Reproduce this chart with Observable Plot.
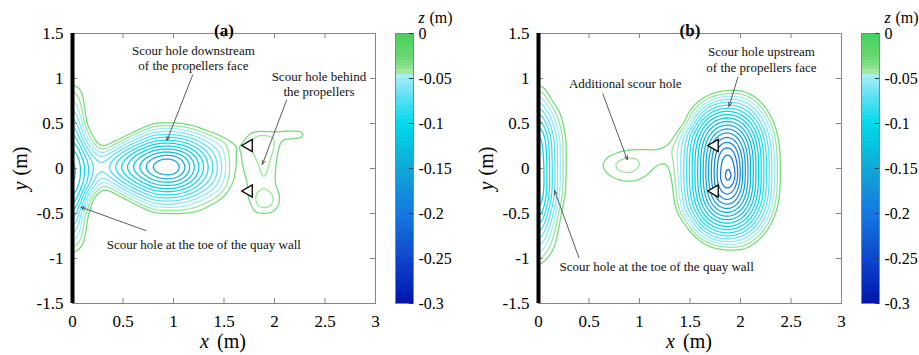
<!DOCTYPE html>
<html><head><meta charset="utf-8">
<script src="https://cdn.jsdelivr.net/npm/d3@7"></script>
<script src="https://cdn.jsdelivr.net/npm/@observablehq/plot@0.6"></script>
<style>
body{margin:0;background:#fff;}
#wrap{position:relative;width:919px;height:355px;overflow:hidden;background:#fff;}
#wrap > div{position:absolute;top:0;}
#wrap svg{font-family:"Liberation Serif","DejaVu Serif",serif;}
#wrap svg text{font-family:"Liberation Serif","DejaVu Serif",serif !important;}
</style></head><body><div id="wrap"></div>
<script>
// ---- data ----
const gridX = [0,0.1,0.2,0.3,0.4,0.5,0.6,0.7,0.8,0.9,1,1.1,1.2,1.3,1.4,1.5,1.6,1.7,1.8,1.9,2,2.1,2.2,2.3,2.4,2.5,2.6,2.7,2.8,2.9,3];
const gridY = [1.5,1.4,1.3,1.2,1.1,1,0.9,0.8,0.7,0.6,0.5,0.4,0.3,0.2,0.1,0,-0.1,-0.2,-0.3,-0.4,-0.5,-0.6,-0.7,-0.8,-0.9,-1,-1.1,-1.2,-1.3,-1.4,-1.5];

// scour depth (mm); "y: values from x=0 by 0.1 m" ("@x" jumps to column x); missing = 0
const depthA = [
"1.0: 20 5",
"0.9: 40 28",
"0.8: 50 33",
"0.7: 62 38",
"0.6: 75 42",
"0.5: 88 48 5 @0.7 15 31 33 33 29 22 13",
"0.4: 100 60 22 @0.5 11 31 47 61 64 63 59 51 39 30 15 5 22 38 37 38 45 45 44",
"0.3: 110 76 38 8 26 46 64 79 92 95 94 88 78 64 52 42 30 32 44 55 43 25 25 22",
"0.2: 120 92 58 40 59 77 94 108 121 126 125 116 102 84 66 50 27 30 44 48 42 12",
"0.1: 127 103 76 65 82 99 116 132 146 156 154 140 119 98 76 55 26 31 38 46 37 10",
"0.0: 130 106 80 72 89 106 123 139 156 166 166 147 124 101 79 56 26 30 36 44 35 8",
"-0.1: 130 105 78 58 76 93 110 125 139 146 145 133 114 94 75 53 25 29 35 43 34 8",
"-0.2: 127 100 70 31 51 69 86 100 113 117 117 109 96 79 64 45 22 27 36 38 34 15",
"-0.3: 120 88 33 10 18 39 57 72 85 88 88 82 72 59 48 32 14 26 42 47 42 20",
"-0.4: 112 70 20 0 0 5 25 42 57 59 59 54 46 38 28 14 3 15 42 46 42 18",
"-0.5: 100 52 12 @0.7 12 28 30 31 31 29 22 8 @1.8 33 35 33",
"-0.6: 85 45 10",
"-0.7: 70 40 8",
"-0.8: 55 36 5",
"-0.9: 40 26",
"-1.0: 22 8"
];

// scour depth (mm)
const depthB = [
"1.0: 18",
"0.9: 42 22 @1.7 8 16 20 20 10",
"0.8: 58 32 5 @1.6 18 36 48 52 50 38 16",
"0.7: 73 48 22 @1.5 18 45 68 81 83 77 62 40 12",
"0.6: 88 62 35 9 @1.4 8 38 72 96 109 112 102 83 57 27",
"0.5: 104 73 42 11 @1.4 12 50 95 119 135 138 126 103 74 41 7",
"0.4: 118 84 50 16 @1.3 9 44 77 109 138 158 162 146 119 86 52 16",
"0.3: 125 90 55 20 @0.8 8 15 18 20 22 26 50 85 120 152 177 182 162 130 95 58 21",
"0.2: 128 92 55 19 @0.6 10 22 29 32 32 32 32 38 54 90 126 160 192 200 172 137 100 62 25",
"0.1: 130 93 56 19 @0.5 5 25 37 42 44 41 36 33 31 55 92 128 165 200 212 177 140 102 64 26",
"0.0: 132 94 56 19 @0.5 3 28 38 43 45 41 33 27 26 56 92 129 166 202 217 178 140 102 64 26",
"-0.1: 132 94 56 19 @0.6 15 29 36 37 33 27 18 22 56 92 129 166 204 226 178 140 102 64 26",
"-0.2: 132 94 55 17 @0.7 12 20 22 22 15 8 18 55 91 128 163 197 208 176 139 101 63 26",
"-0.3: 130 92 53 15 @1.3 16 52 88 123 157 186 192 168 134 98 61 23",
"-0.4: 124 86 48 9 @1.3 12 47 82 115 146 168 173 155 125 91 56 19",
"-0.5: 115 77 39 @1.3 5 39 72 102 129 147 150 136 111 80 47 12",
"-0.6: 102 68 33 @1.4 18 48 85 107 121 124 113 93 65 34",
"-0.7: 88 58 27 @1.4 5 30 63 82 94 96 87 70 46 18",
"-0.8: 74 49 24 @1.5 8 30 54 64 66 60 46 25",
"-0.9: 60 39 17 @1.6 5 18 28 33 33 22 5",
"-1.0: 46 28 10",
"-1.1: 33 8",
"-1.2: 15"
];

const levels = [0.03,0.04,0.05,0.06,0.07,0.08,0.09,0.10,0.11,0.12,0.13,0.14,0.15,0.16,0.17,0.18,0.19,0.20,0.21,0.22,0.23,0.24,0.25,0.26,0.27,0.28,0.29];
const cmapDepth  = [0, 0.03, 0.0449, 0.045, 0.07, 0.1, 0.15, 0.2, 0.25, 0.3];
const cmapColors = ["#46cf5a","#6fda78","#aeeaa8","#aeeffc","#5fe0f4","#00dbea","#0fa8d6","#1478e0","#0f46cc","#0014ae"];

const xTicks = [0, 0.5, 1, 1.5, 2, 2.5, 3];
const yTicks = [-1.5, -1, -0.5, 0, 0.5, 1, 1.5];
const zTicks = [-0.3, -0.25, -0.2, -0.15, -0.1, -0.05, 0];
const wallX = [0];
const propellers = [{x: 1.745, y: 0.255}, {x: 1.745, y: -0.25}];

const notesA = [
  {x: 1.197, y: 1.235, label: "Scour hole downstream\nof the propellers face"},
  {x: 2.44, y: 0.945, label: "Scour hole behind\nthe propellers"},
  {x: 1.30, y: -0.84, label: "Scour hole at the toe of the quay wall"}
];
const arrowsA = [
  {x1: 1.19, y1: 1.04, x2: 0.935, y2: 0.31},
  {x1: 2.12, y1: 0.76, x2: 1.88, y2: 0.045},
  {x1: 0.727, y1: -0.69, x2: 0.084, y2: -0.43}
];
const notesB = [
  {x: 2.207, y: 1.214, label: "Scour hole upstream\nof the propellers face"},
  {x: 0.859, y: 0.95, label: "Additional scour hole"},
  {x: 1.17, y: -1.08, label: "Scour hole at the toe of the quay wall"}
];
const arrowsB = [
  {x1: 1.975, y1: 1.017, x2: 1.886, y2: 0.69},
  {x1: 0.637, y1: 0.83, x2: 0.879, y2: 0.097},
  {x1: 0.40, y1: -0.99, x2: 0.159, y2: -0.245}
];

// ---- build ----
const STYLE = 'font-family:"Liberation Serif","DejaVu Serif",serif;font-size:17px;color:#000;background:transparent;overflow:visible;';
const fmt = d => String(d);
const GRAY = "#858585";

function parseRows(rows) {
  const m = new Map();
  for (const r of rows) {
    const [ys, rest] = r.split(":");
    const vals = new Array(gridX.length).fill(0);
    let col = 0;
    for (const tok of rest.trim().split(/\s+/)) {
      if (tok[0] === "@") col = gridX.findIndex(x => Math.abs(x - parseFloat(tok.slice(1))) < 1e-6);
      else vals[col++] = +tok;
    }
    m.set((+ys).toFixed(1), vals);
  }
  const samples = [];
  for (const y of gridY) {
    const vals = m.get(y.toFixed(1));
    gridX.forEach((x, i) => samples.push({x, y, d: vals ? vals[i] / 1000 : 0}));
  }
  return samples;
}

function mainPlot(samples, notes, arrows, title) {
  return Plot.plot({
    width: 390, height: 355, marginLeft: 72, marginRight: 15, marginTop: 33, marginBottom: 52,
    style: STYLE,
    x: {domain: [0, 3], label: null},
    y: {domain: [-1.5, 1.5], label: null},
    color: {type: "linear", domain: cmapDepth, range: cmapColors},
    marks: [
      Plot.contour(samples, {x: "x", y: "y", value: "d", thresholds: levels, interpolate: "barycentric",
        blur: 1.5, stroke: "value", fill: "none", strokeWidth: 1.25, clip: true}),
      Plot.frame({stroke: GRAY}),
      Plot.tickX(xTicks, {x: d => d, insetTop: 265, stroke: GRAY}),
      Plot.tickX(xTicks, {x: d => d, insetBottom: 265, stroke: GRAY}),
      Plot.tickY(yTicks, {y: d => d, insetRight: 298, stroke: GRAY}),
      Plot.tickY(yTicks, {y: d => d, insetLeft: 298, stroke: GRAY}),
      Plot.axisX(xTicks, {tickSize: 0, tickPadding: 11, tickFormat: fmt, label: null, fontSize: 17}),
      Plot.axisY(yTicks, {tickSize: 0, tickPadding: 9, tickFormat: fmt, label: null, fontSize: 17}),
      Plot.ruleX(wallX, {stroke: "#000", strokeWidth: 4}),
      Plot.arrow(arrows, {x1: "x1", y1: "y1", x2: "x2", y2: "y2", stroke: "#4a4a4a", strokeWidth: 0.9, headLength: 7, headAngle: 45}),
      Plot.text(notes, {x: "x", y: "y", text: "label", fontSize: 13, lineHeight: 1.18, fill: "#111"}),
      Plot.dot(propellers, {x: "x", y: "y", symbol: "triangle", rotate: -90, r: 4.5, fill: "white", stroke: "#000", strokeWidth: 1.3}),
      Plot.text([title], {frameAnchor: "top", dy: -10, fontWeight: "bold", fontSize: 17}),
      Plot.text(["x"], {frameAnchor: "bottom", dy: 44, dx: -15, textAnchor: "end", fontStyle: "italic", fontSize: 20}),
      Plot.text(["(m)"], {frameAnchor: "bottom", dy: 44, dx: -7, textAnchor: "start", fontSize: 20}),
      Plot.text(["y"], {frameAnchor: "left", dx: -52, dy: 13, rotate: -90, textAnchor: "end", fontStyle: "italic", fontSize: 20}),
      Plot.text(["(m)"], {frameAnchor: "left", dx: -52, dy: 7, rotate: -90, textAnchor: "start", fontSize: 20})
    ]
  });
}

function colorbar(width, marginRight) {
  const cmap = d3.scaleLinear(cmapDepth, cmapColors);
  const bands = d3.range(60).map(k => ({lo: -0.3 + k * 0.005, hi: -0.3 + (k + 1) * 0.005}));
  bands.forEach(b => { b.c = cmap(-(b.lo + b.hi) / 2); });
  return Plot.plot({
    width, height: 355, marginLeft: 15, marginRight, marginTop: 33, marginBottom: 52,
    style: STYLE,
    y: {domain: [-0.3, 0], label: null},
    marks: [
      Plot.rect(bands, {y1: "lo", y2: "hi", fill: "c", shapeRendering: "crispEdges"}),
      Plot.frame({stroke: GRAY}),
      Plot.tickY(zTicks, {y: d => d, insetLeft: 14, stroke: "#333"}),
      Plot.axisY(zTicks, {anchor: "right", tickSize: 0, tickPadding: 5, tickFormat: fmt, label: null, fontSize: 16}),
      Plot.text(["z"], {frameAnchor: "top-right", dx: 5, dy: -22, textAnchor: "start", fontStyle: "italic", fontSize: 16}),
      Plot.text(["(m)"], {frameAnchor: "top-right", dx: 16, dy: -22, textAnchor: "start", fontSize: 16})
    ]
  });
}

const wrap = document.getElementById("wrap");
function place(node, left, width) {
  const d = document.createElement("div");
  d.style.left = left + "px";
  d.style.width = width + "px";
  d.appendChild(node);
  wrap.appendChild(d);
}
place(mainPlot(parseRows(depthA), notesA, arrowsA, "(a)"), 0, 390);
place(colorbar(79, 46), 380, 79);
place(mainPlot(parseRows(depthB), notesB, arrowsB, "(b)"), 466, 390);
place(colorbar(73, 40), 846, 73);
</script>
</body></html>
